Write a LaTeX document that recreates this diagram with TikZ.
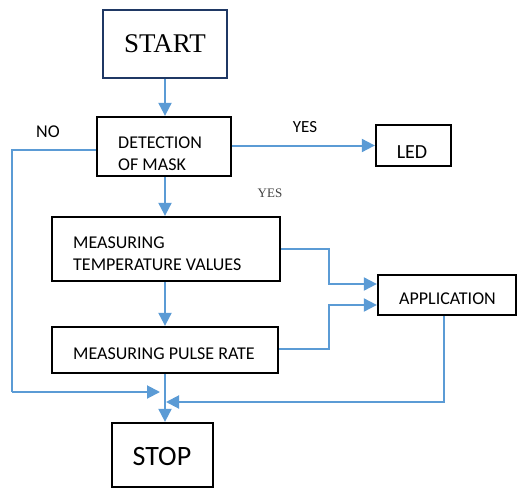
\documentclass[tikz,border=0pt]{standalone}
\usepackage{fontspec}
\setmainfont{Carlito}
\newfontfamily\serifface{Liberation Serif}
\usetikzlibrary{arrows.meta}
\definecolor{flowblue}{HTML}{5B9BD5}
\definecolor{navy}{HTML}{1F3864}
\tikzset{
  box/.style={draw=black, line width=2.3pt, rectangle, inner sep=0pt},
  txt/.style={inner sep=0pt, font=\fontsize{18}{22}\selectfont, align=left},
  flow/.style={draw=flowblue, line width=2pt, -{Triangle[length=13pt,width=13pt]}},
  link/.style={draw=flowblue, line width=2pt}
}
\begin{document}
\begin{tikzpicture}[x=1pt,y=-1pt]
\useasboundingbox (0,0) rectangle (518,489);
% boxes
\node[box, draw=navy, minimum width=124, minimum height=68] (start) at (165,44) {};
\node[box, minimum width=134, minimum height=59] (det) at (164,146.5) {};
\node[box, minimum width=75, minimum height=41] (led) at (413.5,145.5) {};
\node[box, minimum width=228, minimum height=64] (temp) at (166,249) {};
\node[box, minimum width=226, minimum height=46] (pulse) at (165,350) {};
\node[box, minimum width=138, minimum height=40] (app) at (447,295) {};
\node[box, minimum width=101, minimum height=64] (stop) at (162.5,455) {};
% texts
\node[inner sep=0pt, font=\serifface\fontsize{27}{30}\selectfont] (tstart) at (165,44) {START};
\node[txt, anchor=west] (tdet) at (118,154) {DETECTION\\OF MASK};
\node[txt, font=\fontsize{20}{24}\selectfont] (tled) at (412,152) {LED};
\node[txt, anchor=west] (ttemp) at (73,254) {MEASURING\\TEMPERATURE VALUES};
\node[txt, anchor=west] (tpulse) at (73,354) {MEASURING PULSE RATE};
\node[txt, anchor=west] (tapp) at (399,299) {APPLICATION};
\node[txt, font=\fontsize{28}{32}\selectfont] (tstop) at (162,457) {STOP};
\node[txt, font=\fontsize{17}{20}\selectfont] (yes1) at (305,127) {YES};
\node[txt, font=\fontsize{18}{20}\selectfont] (no) at (48,132) {NO};
\node[inner sep=0pt, text=black!75, font=\serifface\fontsize{13}{15}\selectfont] (yes2) at (270,193) {YES};
% coordinates
\coordinate (nocorner1) at (12,150);
\coordinate (nocorner2) at (12,392);
\coordinate (noend) at (160,392);
\coordinate (tc1) at (329,249);
\coordinate (tc2) at (329,284);
\coordinate (pc1) at (329,349);
\coordinate (pc2) at (329,305);
\coordinate (ac1) at (444,402);
\coordinate (aend) at (166,402);
% connectors
\draw[flow] (start.south -| 165,0) -- (det.north -| 165,0);
\draw[flow] (det.east |- led.west) -- (led.west);
\draw[link] (det.west |- nocorner1) -- (nocorner1) -- (nocorner2);
\draw[flow] (nocorner2) -- (noend);
\draw[flow] (det.south -| 165,0) -- (temp.north -| 165,0);
\draw[flow] (temp.south -| 165,0) -- (pulse.north -| 165,0);
\draw[flow] (temp.east |- tc1) -- (tc1) -- (tc2) -- (app.west |- tc2);
\draw[flow] (pulse.east |- pc1) -- (pc1) -- (pc2) -- (app.west |- pc2);
\draw[flow] (app.south -| ac1) -- (ac1) -- (aend);
\draw[flow] (pulse.south -| 165,0) -- (stop.north -| 165,0);
\end{tikzpicture}
\end{document}
